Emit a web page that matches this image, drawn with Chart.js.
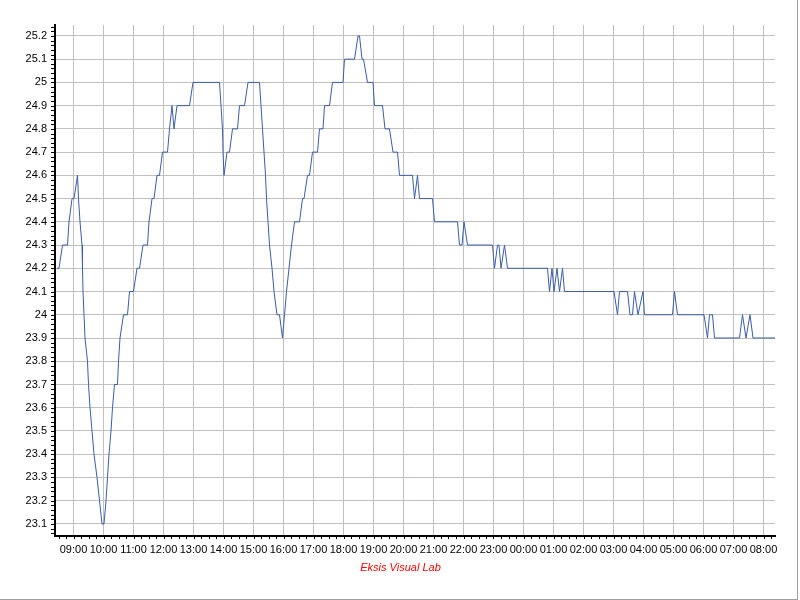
<!DOCTYPE html>
<html>
<head>
<meta charset="utf-8">
<script src="https://cdn.jsdelivr.net/npm/chart.js@4.4.1/dist/chart.umd.min.js"></script>
<style>
  html, body { margin: 0; padding: 0; background: #fff; }
  #wrap { width: 797px; height: 599px; border-right: 1px solid #a0a0a0; border-bottom: 1px solid #a0a0a0; }
</style>
</head>
<body>
<div id="wrap"><canvas id="tempChart" width="797" height="599"></canvas></div>
<script>
// 時刻 (HH:MM) と温度の変化点
var times = [
  "08:27", "08:31", "08:38", "08:48", "08:51", "08:57", "09:01", "09:08",
  "09:10", "09:13", "09:17", "09:18", "09:19", "09:21", "09:23", "09:28",
  "09:30", "09:33", "09:37", "09:41", "09:47", "09:52", "09:57", "10:01",
  "10:05", "10:08", "10:11", "10:15", "10:18", "10:22", "10:28", "10:30",
  "10:33", "10:40", "10:48", "10:52", "11:00", "11:07", "11:12", "11:19",
  "11:28", "11:31", "11:37", "11:41", "11:47", "11:52", "11:58", "12:08",
  "12:12", "12:17", "12:21", "12:27", "12:52", "12:59", "13:52", "13:55",
  "13:58", "13:59", "14:01", "14:07", "14:12", "14:18", "14:28", "14:32",
  "14:42", "14:49", "15:12", "15:15", "15:18", "15:21", "15:24", "15:26",
  "15:29", "15:32", "15:37", "15:41", "15:47", "15:52", "15:58", "16:02",
  "16:06", "16:11", "16:16", "16:22", "16:32", "16:38", "16:41", "16:48",
  "16:52", "16:58", "17:08", "17:12", "17:19", "17:22", "17:32", "17:38",
  "17:59", "18:02", "18:22", "18:29", "18:32", "18:37", "18:40", "18:48",
  "18:59", "19:02", "19:18", "19:23", "19:32", "19:39", "19:48", "19:52",
  "20:18", "20:22", "20:28", "20:32", "20:58", "21:02", "21:48", "21:52",
  "21:57", "22:01", "22:08", "22:58", "23:02", "23:08", "23:11", "23:15",
  "23:22", "23:28", "00:48", "00:52", "00:57", "01:01", "01:07", "01:12",
  "01:18", "01:22", "03:01", "03:08", "03:12", "03:28", "03:33", "03:38",
  "03:42", "03:49", "03:59", "04:02", "04:58", "05:02", "05:08", "06:01",
  "06:08", "06:12", "06:18", "06:22", "07:12", "07:18", "07:25", "07:33",
  "07:39", "08:23"
];
var temps = [
  24.2, 24.2, 24.3, 24.3, 24.4, 24.5, 24.5, 24.6,
  24.5, 24.4, 24.3, 24.2, 24.1, 24.0, 23.9, 23.8,
  23.7, 23.6, 23.5, 23.4, 23.3, 23.2, 23.1, 23.1,
  23.2, 23.3, 23.4, 23.5, 23.6, 23.7, 23.7, 23.8,
  23.9, 24.0, 24.0, 24.1, 24.1, 24.2, 24.2, 24.3,
  24.3, 24.4, 24.5, 24.5, 24.6, 24.6, 24.7, 24.7,
  24.8, 24.9, 24.8, 24.9, 24.9, 25.0, 25.0, 24.9,
  24.8, 24.7, 24.6, 24.7, 24.7, 24.8, 24.8, 24.9,
  24.9, 25.0, 25.0, 24.9, 24.8, 24.7, 24.6, 24.5,
  24.4, 24.3, 24.2, 24.1, 24.0, 24.0, 23.9, 24.0,
  24.1, 24.2, 24.3, 24.4, 24.4, 24.5, 24.5, 24.6,
  24.6, 24.7, 24.7, 24.8, 24.8, 24.9, 24.9, 25.0,
  25.0, 25.1, 25.1, 25.2, 25.2, 25.1, 25.1, 25.0,
  25.0, 24.9, 24.9, 24.8, 24.8, 24.7, 24.7, 24.6,
  24.6, 24.5, 24.6, 24.5, 24.5, 24.4, 24.4, 24.3,
  24.3, 24.4, 24.3, 24.3, 24.2, 24.3, 24.3, 24.2,
  24.3, 24.2, 24.2, 24.1, 24.2, 24.1, 24.2, 24.1,
  24.2, 24.1, 24.1, 24.0, 24.1, 24.1, 24.0, 24.0,
  24.1, 24.0, 24.1, 24.0, 24.0, 24.1, 24.0, 24.0,
  23.9, 24.0, 24.0, 23.9, 23.9, 24.0, 23.9, 24.0,
  23.9, 23.9
];
var hourLabels = [
  "09:00", "10:00", "11:00", "12:00", "13:00", "14:00", "15:00", "16:00",
  "17:00", "18:00", "19:00", "20:00", "21:00", "22:00", "23:00", "00:00",
  "01:00", "02:00", "03:00", "04:00", "05:00", "06:00", "07:00", "08:00"
];
var yTicks = [
  23.1, 23.2, 23.3, 23.4, 23.5, 23.6, 23.7, 23.8, 23.9, 24.0, 24.1,
  24.2, 24.3, 24.4, 24.5, 24.6, 24.7, 24.8, 24.9, 25.0, 25.1, 25.2
];
var footerText = "Eksis Visual Lab";

// HH:MM -> 09:00 からの分 (日付をまたいだら +1440)
function toMinutes(list) {
  var out = [], day = 0, prev = null;
  for (var i = 0; i < list.length; i++) {
    var p = list[i].split(":");
    var m = parseInt(p[0], 10) * 60 + parseInt(p[1], 10) - 540 + day;
    if (prev !== null && m < prev) { day += 1440; m += 1440; }
    out.push(m);
    prev = m;
  }
  return out;
}

var mins = toMinutes(times);
var points = [];
for (var i = 0; i < mins.length; i++) {
  points.push({ x: mins[i], y: temps[i] });
}

var font = { family: "'Liberation Sans', Arial, sans-serif", size: 11 };

// 細かい目盛りとフッター
var extras = {
  id: 'extras',
  afterDraw: function(chart) {
    var ctx = chart.ctx, xs = chart.scales.x, ys = chart.scales.y;
    ctx.save();
    ctx.strokeStyle = '#000';
    ctx.lineWidth = 1;
    ctx.beginPath();
    for (var m = -30; m <= xs.max; m += 15) {
      var px = Math.round(xs.getPixelForValue(m)) + 0.5;
      ctx.moveTo(px, ys.bottom + 1);
      ctx.lineTo(px, ys.bottom + 3);
    }
    for (var k = 0; k <= 110; k++) {
      var v = 23.06 + k * 0.02;
      if (v > ys.max) break;
      var py = Math.round(ys.getPixelForValue(v)) + 0.5;
      ctx.moveTo(xs.left - 4, py);
      ctx.lineTo(xs.left - 1, py);
    }
    ctx.stroke();
    ctx.fillStyle = '#ff0000';
    ctx.font = 'italic 11px ' + font.family;
    ctx.textAlign = 'center';
    ctx.textBaseline = 'middle';
    ctx.fillText(footerText, chart.width / 2 + 2, 568);
    ctx.restore();
  }
};

var ctx = document.getElementById("tempChart");
var myChart = new Chart(ctx, {
  type: 'line',
  data: {
    datasets: [{
      data: points,
      borderColor: '#3a5da8',
      borderWidth: 1,
      pointRadius: 0,
      tension: 0,
      fill: false
    }]
  },
  options: {
    responsive: false,
    animation: false,
    layout: { padding: { top: 25, right: 22, bottom: 0, left: 0 } },
    plugins: {
      legend: { display: false },
      tooltip: { enabled: false }
    },
    scales: {
      x: {
        type: 'linear',
        min: -37,
        max: 1403,
        afterFit: function(scale) { scale.height = 63; },
        afterBuildTicks: function(scale) {
          scale.ticks = hourLabels.map(function(l, i) { return { value: i * 60 }; });
        },
        grid: { color: '#c0c0c0', lineWidth: 1, drawTicks: false },
        border: { display: true, color: '#000', width: 2 },
        ticks: {
          autoSkip: false,
          maxRotation: 0,
          padding: 7,
          color: '#000',
          font: font,
          callback: function(value, index) { return hourLabels[index]; }
        }
      },
      y: {
        type: 'linear',
        min: 23.048,
        max: 25.247,
        afterFit: function(scale) { scale.width = 55; },
        afterBuildTicks: function(scale) {
          scale.ticks = yTicks.map(function(v) { return { value: v }; });
        },
        grid: { color: '#c0c0c0', lineWidth: 1, drawTicks: false },
        border: { display: true, color: '#000', width: 2 },
        ticks: {
          padding: 8,
          color: '#000',
          font: font,
          callback: function(value) { return String(Math.round(value * 10) / 10); }
        }
      }
    }
  },
  plugins: [extras]
});
</script>
</body>
</html>
